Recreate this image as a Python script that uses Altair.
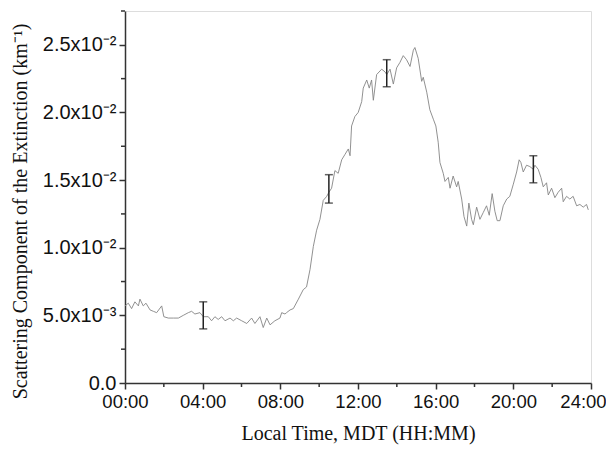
import altair as alt
import pandas as pd

# Scattering component time series (hours, km^-1)
hours = [0.0, 0.17, 0.34, 0.51, 0.69, 0.77, 0.94, 1.08, 1.29, 1.46, 1.63, 1.89, 2.0, 2.23, 2.49, 2.75,
         3.0, 3.26, 3.43, 3.6, 3.86, 4.03, 4.29, 4.46, 4.63, 4.8, 4.98, 5.15, 5.41, 5.58, 5.75, 6.01,
         6.27, 6.52, 6.69, 6.95, 7.12, 7.3, 7.47, 7.72, 7.98, 8.07, 8.24, 8.32, 8.5, 8.67, 8.93, 9.18,
         9.35, 9.53, 9.7, 9.87, 10.04, 10.21, 10.39, 10.5, 10.64, 10.81, 10.98, 11.16, 11.33, 11.5,
         11.59, 11.67, 11.84, 12.01, 12.19, 12.27, 12.45, 12.58, 12.7, 12.79, 12.96, 13.22, 13.39,
         13.48, 13.65, 13.82, 13.99, 14.16, 14.33, 14.5, 14.68, 14.85, 14.93, 15.1, 15.28, 15.36,
         15.54, 15.7, 15.88, 16.01, 16.13, 16.22, 16.39, 16.48, 16.65, 16.74, 16.9, 17.08, 17.16,
         17.34, 17.46, 17.6, 17.71, 17.85, 17.94, 18.11, 18.28, 18.45, 18.62, 18.76, 18.91, 19.05,
         19.17, 19.31, 19.48, 19.66, 19.82, 20.0, 20.17, 20.3, 20.39, 20.51, 20.68, 20.85, 21.03,
         21.11, 21.28, 21.42, 21.54, 21.71, 21.8, 21.97, 22.14, 22.31, 22.49, 22.57, 22.74, 22.91,
         23.08, 23.26, 23.43, 23.6, 23.77, 23.86]
values = [0.0057, 0.0059, 0.0055, 0.0060, 0.0057, 0.0062, 0.0057, 0.0059, 0.0054, 0.0053, 0.0052,
          0.0057, 0.0049, 0.0048, 0.0048, 0.0048, 0.0050, 0.0052, 0.0053, 0.0051, 0.0052, 0.0049,
          0.0049, 0.0046, 0.0049, 0.0047, 0.0049, 0.0046, 0.0048, 0.0046, 0.0048, 0.0046, 0.0044,
          0.0048, 0.0044, 0.0049, 0.0041, 0.0048, 0.0043, 0.0046, 0.0048, 0.0052, 0.0051, 0.0052,
          0.0054, 0.0055, 0.0062, 0.0069, 0.0071, 0.0084, 0.0101, 0.0113, 0.0121, 0.0135, 0.0138,
          0.0141, 0.0144, 0.0157, 0.0155, 0.0165, 0.0169, 0.0173, 0.0168, 0.0190, 0.0197, 0.0200,
          0.0208, 0.0218, 0.0224, 0.0218, 0.0224, 0.0209, 0.0228, 0.0232, 0.0230, 0.0228, 0.0232,
          0.0221, 0.0233, 0.0237, 0.0242, 0.0239, 0.0234, 0.0246, 0.0248, 0.0240, 0.0223, 0.0226,
          0.0215, 0.0202, 0.0195, 0.0190, 0.0178, 0.0163, 0.0155, 0.0149, 0.0152, 0.0144, 0.0153,
          0.0145, 0.0149, 0.0136, 0.0123, 0.0116, 0.0133, 0.0121, 0.0117, 0.0130, 0.0121, 0.0126,
          0.0131, 0.0124, 0.0140, 0.0127, 0.0120, 0.0120, 0.0131, 0.0136, 0.0138, 0.0147, 0.0156,
          0.0165, 0.0163, 0.0156, 0.0161, 0.0160, 0.0158, 0.0161, 0.0158, 0.0152, 0.0145, 0.0148,
          0.0139, 0.0144, 0.0137, 0.0141, 0.0144, 0.0134, 0.0138, 0.0136, 0.0138, 0.0131, 0.0132,
          0.0130, 0.0132, 0.0128]

# Error bars
err_hours = [4.03, 10.5, 13.48, 21.03]
err_low = [0.0040, 0.0133, 0.0219, 0.0148]
err_high = [0.0060, 0.0154, 0.0239, 0.0168]

x_ticks = [0, 4, 8, 12, 16, 20, 24]
x_minor = [2, 6, 10, 14, 18, 22]
y_ticks = [0, 0.005, 0.01, 0.015, 0.02, 0.025]
y_minor = [0.0025, 0.0075, 0.0125, 0.0175, 0.0225, 0.0275]

df = pd.DataFrame({"h": hours, "v": values})
edf = pd.DataFrame({"h": err_hours, "lo": err_low, "hi": err_high})
xm = pd.DataFrame({"h": x_minor})
ym = pd.DataFrame({"v": y_minor})

AX = "#333333"
xscale = alt.Scale(domain=[0, 24], nice=False, zero=False)
yscale = alt.Scale(domain=[0, 0.0275], nice=False)

x_axis = alt.Axis(
    values=x_ticks,
    labelExpr="(datum.value < 10 ? '0' : '') + datum.value + ':00'",
    title="Local Time, MDT (HH:MM)",
    titleFont="Liberation Serif", titleFontSize=20, titleFontWeight="normal",
    titleColor="#111111", titlePadding=13,
    labelFont="Liberation Sans", labelFontSize=18.5, labelColor="#111111", labelPadding=3,
    labelOffset={"condition": {"test": "datum.value == 24", "value": -8}, "value": 0},
    domainColor=AX, domainWidth=1.5, tickColor=AX, tickWidth=1.5, tickSize=6,
    grid=False, labelFlush=False, labelOverlap=False,
)
y_axis = alt.Axis(
    values=y_ticks,
    labelExpr="datum.value < 1e-9 ? '0.0' : (datum.value < 0.0075 ? '5.0x10⁻³' : format(datum.value * 100, '.1f') + 'x10⁻²')",
    title="Scattering Component of the Extinction (km⁻¹)",
    titleFont="Liberation Serif", titleFontSize=20, titleFontWeight="normal",
    titleColor="#111111", titlePadding=12, titleY=200,
    labelFont="Liberation Sans", labelFontSize=20, labelColor="#111111", labelPadding=3,
    domainColor=AX, domainWidth=1.5, tickColor=AX, tickWidth=1.5, tickSize=6,
    grid=False, labelFlush=False, labelOverlap=False,
)

line = alt.Chart(df).mark_line(color="#858585", strokeWidth=0.9).encode(
    x=alt.X("h:Q", scale=xscale, axis=x_axis),
    y=alt.Y("v:Q", scale=yscale, axis=y_axis),
)

bars = alt.Chart(edf).mark_rule(color="#222222", strokeWidth=1.5).encode(
    x="h:Q", y="lo:Q", y2="hi:Q"
)
cap_lo = alt.Chart(edf).mark_tick(color="#222222", orient="horizontal", size=8, thickness=1.5).encode(
    x="h:Q", y="lo:Q"
)
cap_hi = alt.Chart(edf).mark_tick(color="#222222", orient="horizontal", size=8, thickness=1.5).encode(
    x="h:Q", y="hi:Q"
)

minor_x = alt.Chart(xm).mark_rule(color=AX, strokeWidth=1.5).encode(
    x=alt.X("h:Q"), y=alt.value(372), y2=alt.value(376)
)
minor_y = alt.Chart(ym).mark_rule(color=AX, strokeWidth=1.5).encode(
    y=alt.Y("v:Q"), x=alt.value(0), x2=alt.value(-4)
)

chart = alt.layer(line, bars, cap_lo, cap_hi, minor_x, minor_y).properties(
    width=466, height=372,
    autosize=alt.AutoSizeParams(type="none"),
    padding={"left": 117, "top": 3, "right": 15, "bottom": 62},
).configure_view(stroke=None).configure(background="white")

chart.save("out.html", embed_options={"renderer": "svg", "actions": False})
